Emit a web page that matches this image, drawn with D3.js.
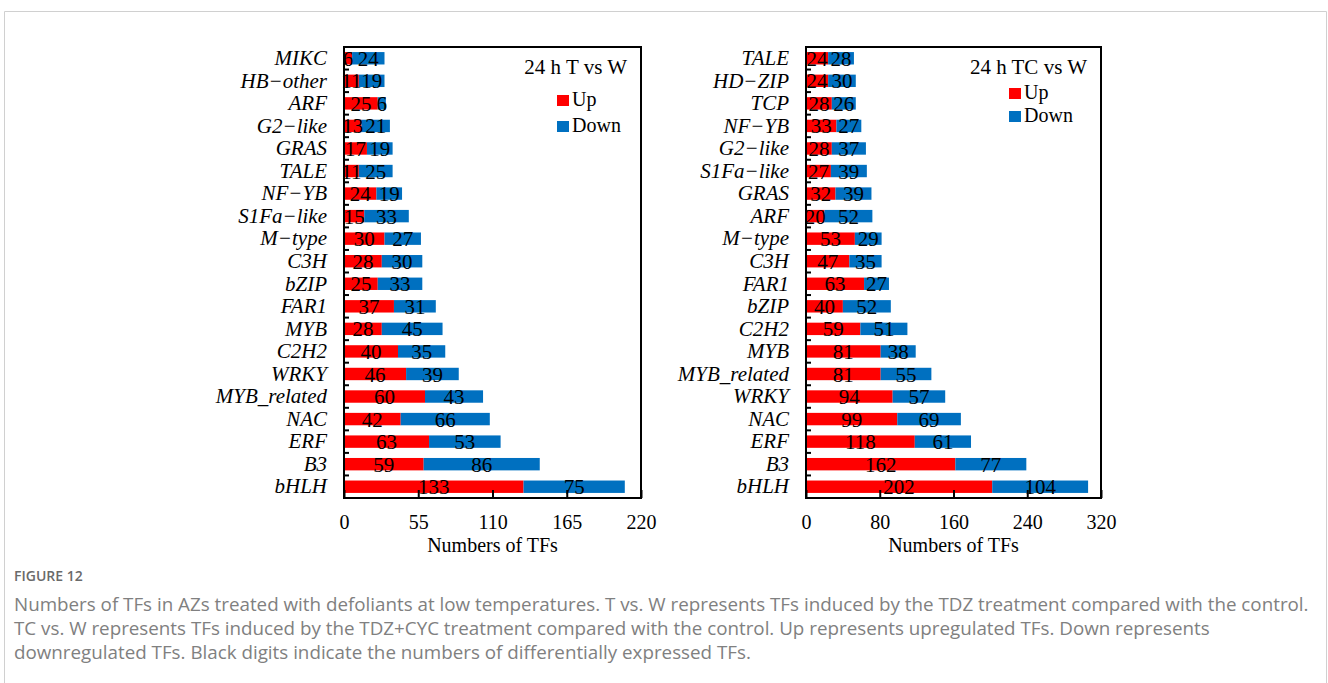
<!DOCTYPE html>
<html>
<head>
<meta charset="utf-8">
<script src="https://cdn.jsdelivr.net/npm/d3@7"></script>
<style>
  html, body { margin: 0; padding: 0; background: #fff; }
  svg { display: block; }
</style>
</head>
<body>
<svg id="chart" width="1328" height="683"></svg>
<script>
// ---------------- DATA ----------------
const categoriesT = ["MIKC", "HB\u2212other", "ARF", "G2\u2212like", "GRAS", "TALE", "NF\u2212YB", "S1Fa\u2212like", "M\u2212type", "C3H", "bZIP", "FAR1", "MYB", "C2H2", "WRKY", "MYB_related", "NAC", "ERF", "B3", "bHLH"];
const upT   = [6, 11, 25, 13, 17, 11, 24, 15, 30, 28, 25, 37, 28, 40, 46, 60, 42, 63, 59, 133];
const downT = [24, 19, 6, 21, 19, 25, 19, 33, 27, 30, 33, 31, 45, 35, 39, 43, 66, 53, 86, 75];
const ticksT = [0, 55, 110, 165, 220];

const categoriesTC = ["TALE", "HD\u2212ZIP", "TCP", "NF\u2212YB", "G2\u2212like", "S1Fa\u2212like", "GRAS", "ARF", "M\u2212type", "C3H", "FAR1", "bZIP", "C2H2", "MYB", "MYB_related", "WRKY", "NAC", "ERF", "B3", "bHLH"];
const upTC   = [24, 24, 28, 33, 28, 27, 32, 20, 53, 47, 63, 40, 59, 81, 81, 94, 99, 118, 162, 202];
const downTC = [28, 30, 26, 27, 37, 39, 39, 52, 29, 35, 27, 52, 51, 38, 55, 57, 69, 61, 77, 104];
const ticksTC = [0, 80, 160, 240, 320];

const seriesNames = ["Up", "Down"];
const titles = ["24 h T vs W", "24 h TC vs W"];
const xAxisTitle = "Numbers of TFs";
const captionHead = "FIGURE 12";
const captionLines = [
  "Numbers of TFs in AZs treated with defoliants at low temperatures. T vs. W represents TFs induced by the TDZ treatment compared with the control.",
  "TC vs. W represents TFs induced by the TDZ+CYC treatment compared with the control. Up represents upregulated TFs. Down represents",
  "downregulated TFs. Black digits indicate the numbers of differentially expressed TFs."
];

// ---------------- STYLE / LAYOUT ----------------
const colors = {Up: "#FF0000", Down: "#0070C0"};
const serif = "'Liberation Serif', 'Times New Roman', serif";
const fs = 21;

const svg = d3.select("#chart");

// card border (left, top, right)
svg.append("path")
  .attr("d", "M4.5,683 L4.5,11.5 L1326.5,11.5 L1326.5,683")
  .attr("fill", "none").attr("stroke", "#d0d0d0").attr("stroke-width", 1);

const panels = [
  {cats: categoriesT, up: upT, down: downT, ticks: ticksT, title: titles[0],
   x0: 344, x1: 641, y0: 47, y1: 498, legX: 557, legY: [95, 121]},
  {cats: categoriesTC, up: upTC, down: downTC, ticks: ticksTC, title: titles[1],
   x0: 806, x1: 1101, y0: 47, y1: 498, legX: 1009, legY: [88, 111]}
];

panels.forEach(p => {
  const g = svg.append("g");
  const x = d3.scaleLinear()
    .domain([p.ticks[0], p.ticks[p.ticks.length - 1]])
    .range([p.x0, p.x1]);
  const y = d3.scaleBand()
    .domain(p.cats)
    .range([p.y0, p.y1])
    .paddingInner(0.45)
    .paddingOuter(0.225);
  const step = y.step();

  const rows = p.cats.map((c, i) => ({cat: c, up: p.up[i], down: p.down[i]}));

  // bars
  rows.forEach(r => {
    g.append("rect")
      .attr("x", x(0)).attr("y", y(r.cat))
      .attr("width", x(r.up) - x(0)).attr("height", y.bandwidth())
      .attr("fill", colors.Up);
    g.append("rect")
      .attr("x", x(r.up)).attr("y", y(r.cat))
      .attr("width", x(r.up + r.down) - x(r.up)).attr("height", y.bandwidth())
      .attr("fill", colors.Down);
  });

  // value labels
  rows.forEach(r => {
    const cy = y(r.cat) + y.bandwidth() / 2;
    g.append("text")
      .attr("x", (x(0) + x(r.up)) / 2).attr("y", cy).attr("dy", "0.36em")
      .attr("text-anchor", "middle")
      .style("font-family", serif).style("font-size", fs + "px")
      .text(r.up);
    g.append("text")
      .attr("x", (x(r.up) + x(r.up + r.down)) / 2).attr("y", cy).attr("dy", "0.36em")
      .attr("text-anchor", "middle")
      .style("font-family", serif).style("font-size", fs + "px")
      .text(r.down);
  });

  // frame
  g.append("rect")
    .attr("x", p.x0).attr("y", p.y0)
    .attr("width", p.x1 - p.x0).attr("height", p.y1 - p.y0)
    .attr("fill", "none").attr("stroke", "#000").attr("stroke-width", 2);

  // y boundary ticks (inward)
  p.cats.slice(0, -1).forEach(c => {
    const yy = y(c) + y.bandwidth() + step * 0.45 / 2;
    g.append("line")
      .attr("x1", p.x0).attr("x2", p.x0 + 5)
      .attr("y1", yy).attr("y2", yy)
      .attr("stroke", "#000").attr("stroke-width", 2);
  });

  // y axis labels
  const ya = g.append("g")
    .attr("transform", `translate(${p.x0},0)`)
    .call(d3.axisLeft(y).tickSize(0).tickPadding(17));
  ya.select(".domain").remove();
  ya.selectAll("text")
    .style("font-family", serif).style("font-size", fs + "px")
    .style("font-style", "italic").attr("fill", "#000");

  // x axis
  const xa = g.append("g")
    .attr("transform", `translate(0,${p.y1})`)
    .call(d3.axisBottom(x).tickValues(p.ticks).tickSizeInner(-8).tickSizeOuter(0).tickPadding(17));
  xa.select(".domain").remove();
  xa.selectAll("line").attr("stroke", "#000").attr("stroke-width", 2);
  xa.selectAll("text")
    .style("font-family", serif).style("font-size", "20px").attr("fill", "#000");

  // x title
  g.append("text")
    .attr("x", (p.x0 + p.x1) / 2).attr("y", 552)
    .attr("text-anchor", "middle")
    .style("font-family", serif).style("font-size", "20px")
    .text(xAxisTitle);

  // panel title
  g.append("text")
    .attr("x", p.x1 - 14).attr("y", 74)
    .attr("text-anchor", "end")
    .style("font-family", serif).style("font-size", fs + "px")
    .text(p.title);

  // legend
  seriesNames.forEach((s, i) => {
    g.append("rect")
      .attr("x", p.legX).attr("y", p.legY[i])
      .attr("width", 12).attr("height", 11)
      .attr("fill", colors[s]);
    g.append("text")
      .attr("x", p.legX + 15).attr("y", p.legY[i] + 11)
      .style("font-family", serif).style("font-size", "20px")
      .text(s);
  });
});

// caption
const cap = svg.append("g");
cap.append("text")
  .attr("x", 14).attr("y", 581)
  .style("font-family", "'Open Sans', sans-serif").style("font-size", "14px")
  .style("font-weight", "600").attr("fill", "#6a6a6a")
  .text(captionHead);
const lineEls = captionLines.map((t, i) =>
  cap.append("text")
    .attr("x", 14).attr("y", 611 + i * 24)
    .style("font-family", "'Open Sans', sans-serif").style("font-size", "16px")
    .attr("fill", "#808080")
    .text(t)
);
// fit caption font size so first line spans to x≈1310
const w0 = lineEls[0].node().getComputedTextLength();
const capSize = 16 * (1296 / w0);
lineEls.forEach(el => el.style("font-size", capSize.toFixed(2) + "px"));
</script>
</body>
</html>
